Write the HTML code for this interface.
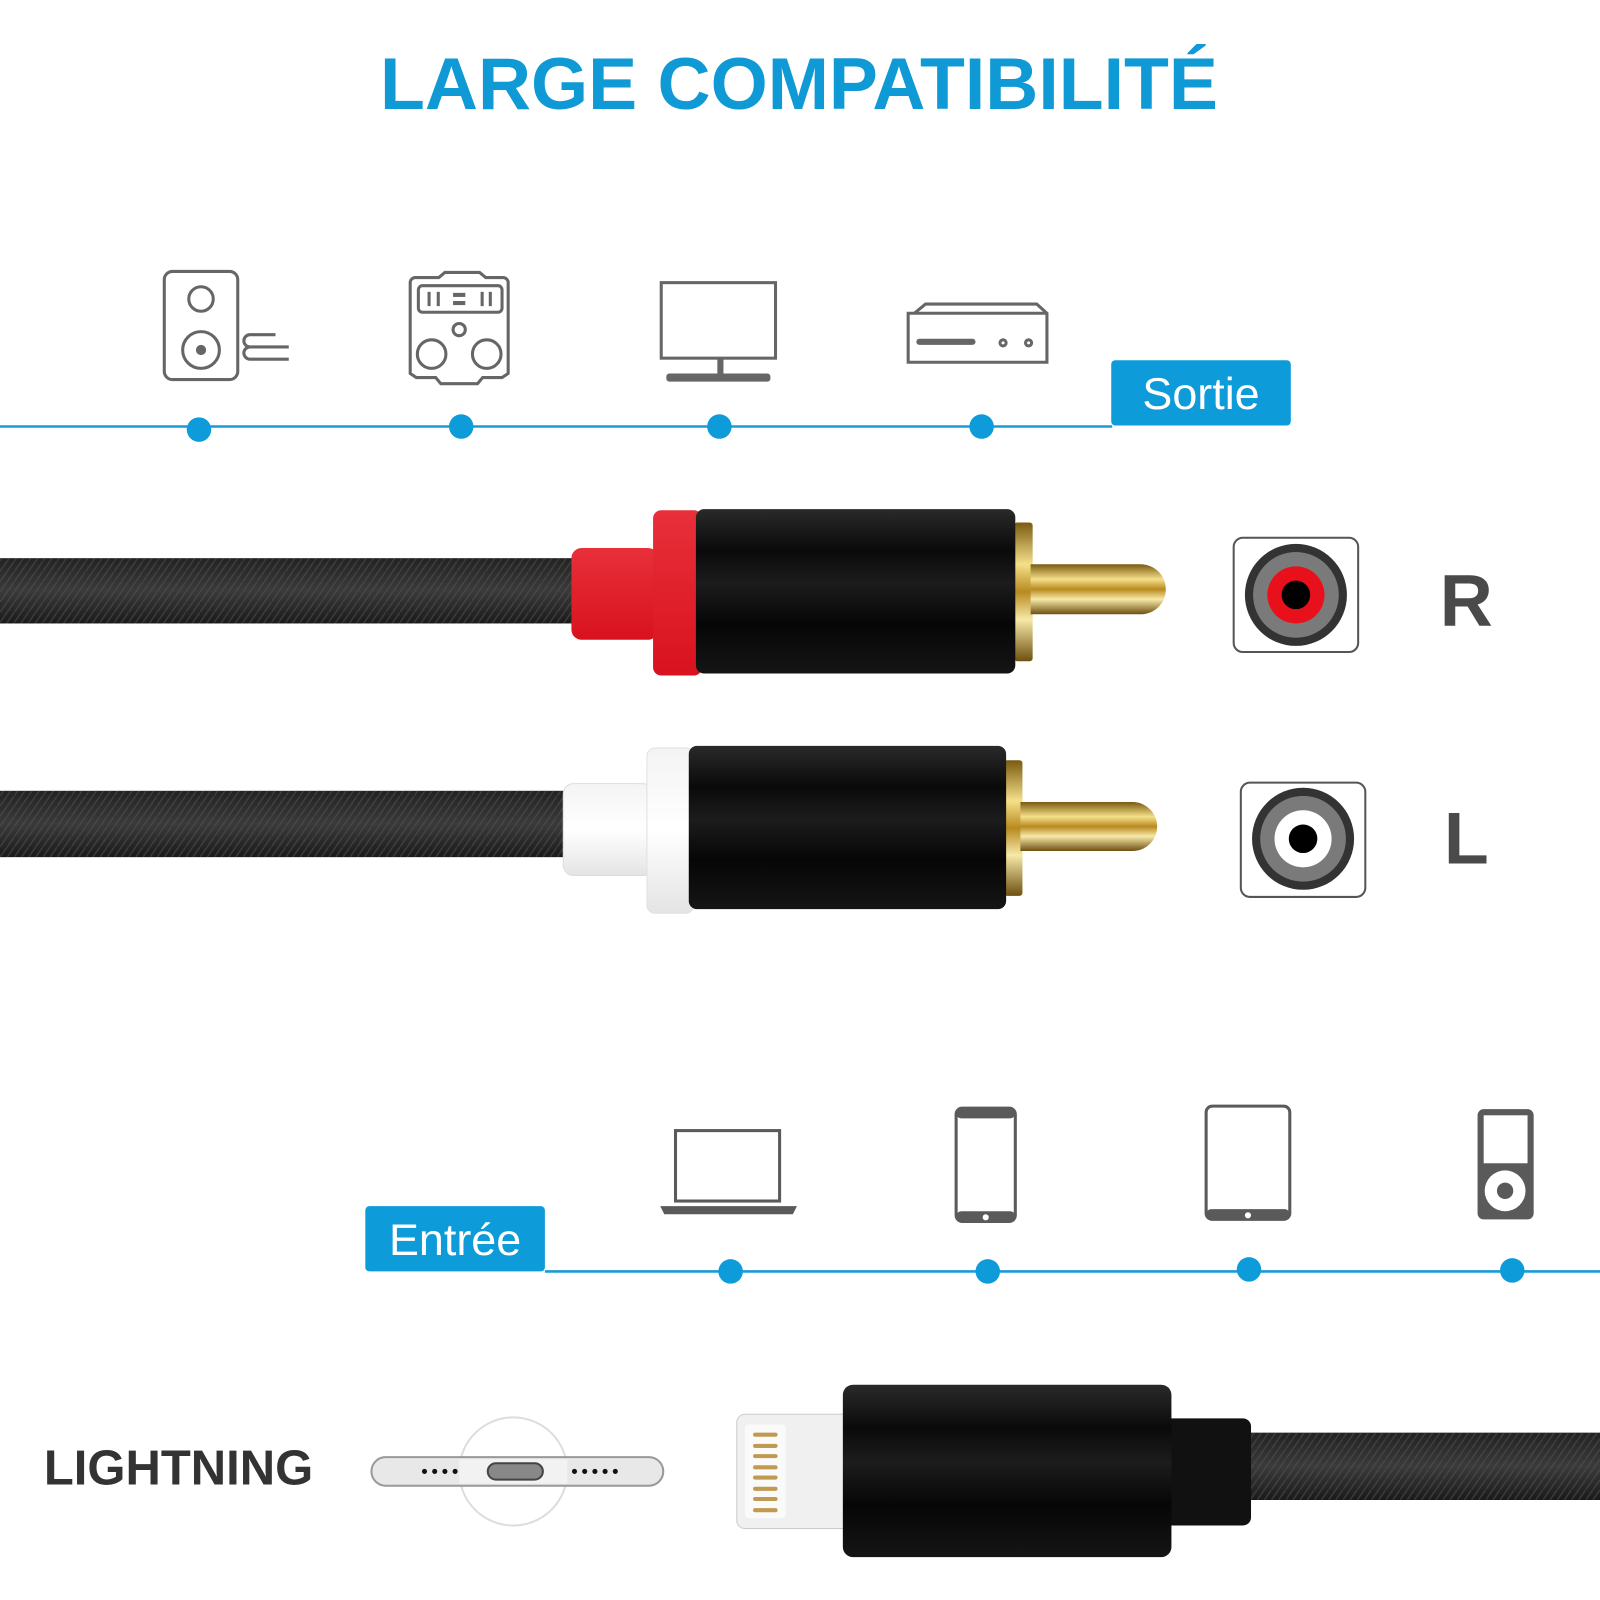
<!DOCTYPE html>
<html><head><meta charset="utf-8"><style>html,body{margin:0;padding:0;background:#fff;width:1600px;height:1600px;overflow:hidden}</style></head>
<body>
<svg width="1600" height="1600" viewBox="0 0 1568 1568" xmlns="http://www.w3.org/2000/svg">
<defs>
<linearGradient id="blk" x1="0" y1="0" x2="0" y2="1">
<stop offset="0" stop-color="#2a2a2a"/><stop offset="0.25" stop-color="#0a0a0a"/><stop offset="0.45" stop-color="#1c1c1c"/><stop offset="0.7" stop-color="#060606"/><stop offset="1" stop-color="#151515"/></linearGradient>
<linearGradient id="gold" x1="0" y1="0" x2="0" y2="1">
<stop offset="0" stop-color="#7a5a10"/><stop offset="0.3" stop-color="#f5e08a"/><stop offset="0.5" stop-color="#b88a20"/><stop offset="0.7" stop-color="#f7e9a8"/><stop offset="1" stop-color="#6e5010"/></linearGradient>
<linearGradient id="cab" x1="0" y1="0" x2="0" y2="1">
<stop offset="0" stop-color="#222"/><stop offset="0.5" stop-color="#3a3a3a"/><stop offset="1" stop-color="#1a1a1a"/></linearGradient>
<pattern id="braid" width="14" height="10" patternUnits="userSpaceOnUse">
<path d="M0 10 L7 0 M7 10 L14 0" stroke="#555" stroke-width="1.5" opacity="0.5"/></pattern>
<linearGradient id="red" x1="0" y1="0" x2="0" y2="1"><stop offset="0" stop-color="#e8303a"/><stop offset="1" stop-color="#d8121e"/></linearGradient>
<linearGradient id="wht" x1="0" y1="0" x2="0" y2="1"><stop offset="0" stop-color="#f4f4f4"/><stop offset="0.5" stop-color="#ffffff"/><stop offset="1" stop-color="#e4e4e4"/></linearGradient>
</defs>

<text x="783" y="107" text-anchor="middle" font-family="Liberation Sans, sans-serif" font-weight="bold" font-size="72" fill="#0f9ad6">LARGE COMPATIBILITÉ</text>

<g fill="none" stroke="#666" stroke-width="3">
<rect x="161" y="266" width="72" height="106" rx="8"/>
<circle cx="197" cy="293" r="12"/>
<circle cx="197" cy="343" r="18"/>
<path d="M283 340 H245 a6 6 0 0 1 0 -12 H270 M283 352 H245 a6 6 0 0 1 0 -12"/>
<path d="M407 272 H430 l6 -5 H470 l6 5 H493 a5 5 0 0 1 5 5 V366 l-6 4 H473 l-5 6 H432 l-5 -6 H408 l-6 -4 V277 a5 5 0 0 1 5 -5 Z"/>
<rect x="410" y="280" width="82" height="26" rx="4"/>
<circle cx="450" cy="323" r="6"/>
<circle cx="423" cy="347" r="14"/>
<circle cx="477" cy="347" r="14"/>
<rect x="648" y="277" width="112" height="74"/>
<path d="M896 307 L907 298 H1016 L1026 307 V355 H890 V307 Z M890 307 H1026"/>
<circle cx="983" cy="336" r="3"/><circle cx="1008" cy="336" r="3"/>
</g>
<g fill="#666">
<circle cx="197" cy="343" r="5"/>
<rect x="419" y="286" width="3" height="14"/><rect x="428" y="286" width="3" height="14"/>
<rect x="444" y="287" width="12" height="4"/><rect x="444" y="295" width="12" height="4"/>
<rect x="471" y="286" width="3" height="14"/><rect x="479" y="286" width="3" height="14"/>
<rect x="703" y="352" width="6" height="15"/>
<rect x="653" y="366" width="102" height="8" rx="3"/>
<rect x="898" y="332" width="58" height="6" rx="3"/>
</g>

<line x1="0" y1="418" x2="1090" y2="418" stroke="#1a9bd7" stroke-width="2.5"/>
<g fill="#0e9bd9"><circle cx="195" cy="421" r="12"/><circle cx="452" cy="418" r="12"/><circle cx="705" cy="418" r="12"/><circle cx="962" cy="418" r="12"/></g>
<rect x="1089" y="353" width="176" height="64" rx="4" fill="#0e9bd9"/>
<text x="1177" y="401" text-anchor="middle" font-family="Liberation Sans, sans-serif" font-size="44" fill="#fff">Sortie</text>

<rect x="0" y="547" width="570" height="64" fill="url(#cab)"/><rect x="0" y="547" width="570" height="64" fill="url(#braid)"/>
<rect x="560" y="537" width="85" height="90" rx="10" fill="url(#red)"/>
<rect x="640" y="500" width="48" height="162" rx="8" fill="url(#red)"/>
<rect x="994" y="512" width="18" height="136" rx="3" fill="url(#gold)"/>
<path d="M1010 553 H1118 a24 24 0 0 1 0 49 H1010 Z" fill="url(#gold)"/>
<rect x="682" y="499" width="313" height="161" rx="8" fill="url(#blk)"/>

<rect x="0" y="775" width="565" height="65" fill="url(#cab)"/><rect x="0" y="775" width="565" height="65" fill="url(#braid)"/>
<rect x="552" y="768" width="88" height="90" rx="10" fill="url(#wht)" stroke="#ddd"/>
<rect x="634" y="733" width="46" height="162" rx="8" fill="url(#wht)" stroke="#e0e0e0"/>
<rect x="984" y="745" width="18" height="133" rx="3" fill="url(#gold)"/>
<path d="M1000 786 H1110 a24 24 0 0 1 0 48 H1000 Z" fill="url(#gold)"/>
<rect x="675" y="731" width="311" height="160" rx="8" fill="url(#blk)"/>

<rect x="1209" y="527" width="122" height="112" rx="9" fill="#fff" stroke="#555" stroke-width="2"/>
<circle cx="1270" cy="583" r="50" fill="#333"/><circle cx="1270" cy="583" r="42" fill="#7a7a7a"/><circle cx="1270" cy="583" r="28" fill="#e8101a"/><circle cx="1270" cy="583" r="14" fill="#000"/>
<text x="1437" y="613" text-anchor="middle" font-family="Liberation Sans, sans-serif" font-weight="bold" font-size="72" fill="#4a4a4a">R</text>
<rect x="1216" y="767" width="122" height="112" rx="9" fill="#fff" stroke="#555" stroke-width="2"/>
<circle cx="1277" cy="822" r="50" fill="#333"/><circle cx="1277" cy="822" r="42" fill="#7a7a7a"/><circle cx="1277" cy="822" r="28" fill="#fff"/><circle cx="1277" cy="822" r="14" fill="#000"/>
<text x="1437" y="846" text-anchor="middle" font-family="Liberation Sans, sans-serif" font-weight="bold" font-size="72" fill="#4a4a4a">L</text>

<g fill="none" stroke="#5a5a5a" stroke-width="3">
<rect x="662" y="1108" width="102" height="69"/>
<rect x="937" y="1086" width="58" height="111" rx="6"/>
<rect x="1182" y="1084" width="82" height="111" rx="6"/>
</g>
<g fill="#5a5a5a">
<path d="M647 1182 H781 L777 1190 H651 Z"/>
<rect x="937" y="1086" width="58" height="10" rx="5"/><rect x="937" y="1187" width="58" height="10" rx="5"/>
<rect x="1182" y="1185" width="82" height="10" rx="5"/>
<rect x="1448" y="1087" width="55" height="108" rx="6"/>
</g>
<rect x="1454" y="1093" width="43" height="47" fill="#fff"/>
<circle cx="1475" cy="1167" r="20" fill="#fff"/><circle cx="1475" cy="1167" r="8" fill="#5a5a5a"/>
<circle cx="966" cy="1193" r="3" fill="#fff"/><circle cx="1223" cy="1191" r="3" fill="#fff"/>

<line x1="534" y1="1246" x2="1568" y2="1246" stroke="#1a9bd7" stroke-width="2.5"/>
<g fill="#0e9bd9"><circle cx="716" cy="1246" r="12"/><circle cx="968" cy="1246" r="12"/><circle cx="1224" cy="1244" r="12"/><circle cx="1482" cy="1245" r="12"/></g>
<rect x="358" y="1182" width="176" height="64" rx="4" fill="#0e9bd9"/>
<text x="446" y="1230" text-anchor="middle" font-family="Liberation Sans, sans-serif" font-size="44" fill="#fff">Entrée</text>

<text x="43" y="1455" font-family="Liberation Sans, sans-serif" font-weight="bold" font-size="48" fill="#333">LIGHTNING</text>

<circle cx="503" cy="1442" r="53" fill="#fff" stroke="#ddd" stroke-width="2"/>
<rect x="364" y="1428" width="286" height="28" rx="14" fill="#e8e8e8" stroke="#999" stroke-width="2"/>
<rect x="450" y="1430" width="106" height="24" fill="#f2f2f2"/>
<rect x="478" y="1434" width="54" height="16" rx="8" fill="#888" stroke="#444" stroke-width="2"/>
<g fill="#111"><circle cx="416" cy="1442" r="2.5"/><circle cx="426" cy="1442" r="2.5"/><circle cx="436" cy="1442" r="2.5"/><circle cx="446" cy="1442" r="2.5"/>
<circle cx="563" cy="1442" r="2.5"/><circle cx="573" cy="1442" r="2.5"/><circle cx="583" cy="1442" r="2.5"/><circle cx="593" cy="1442" r="2.5"/><circle cx="603" cy="1442" r="2.5"/></g>

<rect x="1222" y="1404" width="346" height="66" fill="url(#cab)"/><rect x="1222" y="1404" width="346" height="66" fill="url(#braid)"/>
<rect x="1140" y="1390" width="86" height="105" rx="8" fill="#111"/>
<rect x="722" y="1386" width="112" height="112" rx="8" fill="#f0f0f0" stroke="#ccc"/>
<rect x="730" y="1396" width="40" height="92" rx="4" fill="#fafafa"/>
<g fill="#c09a50"><rect x="738" y="1404" width="24" height="4" rx="2"/><rect x="738" y="1415" width="24" height="4" rx="2"/><rect x="738" y="1425" width="24" height="4" rx="2"/><rect x="738" y="1436" width="24" height="4" rx="2"/><rect x="738" y="1446" width="24" height="4" rx="2"/><rect x="738" y="1457" width="24" height="4" rx="2"/><rect x="738" y="1467" width="24" height="4" rx="2"/><rect x="738" y="1478" width="24" height="4" rx="2"/></g>
<rect x="826" y="1357" width="322" height="169" rx="10" fill="url(#blk)"/>
</svg>
</body></html>
